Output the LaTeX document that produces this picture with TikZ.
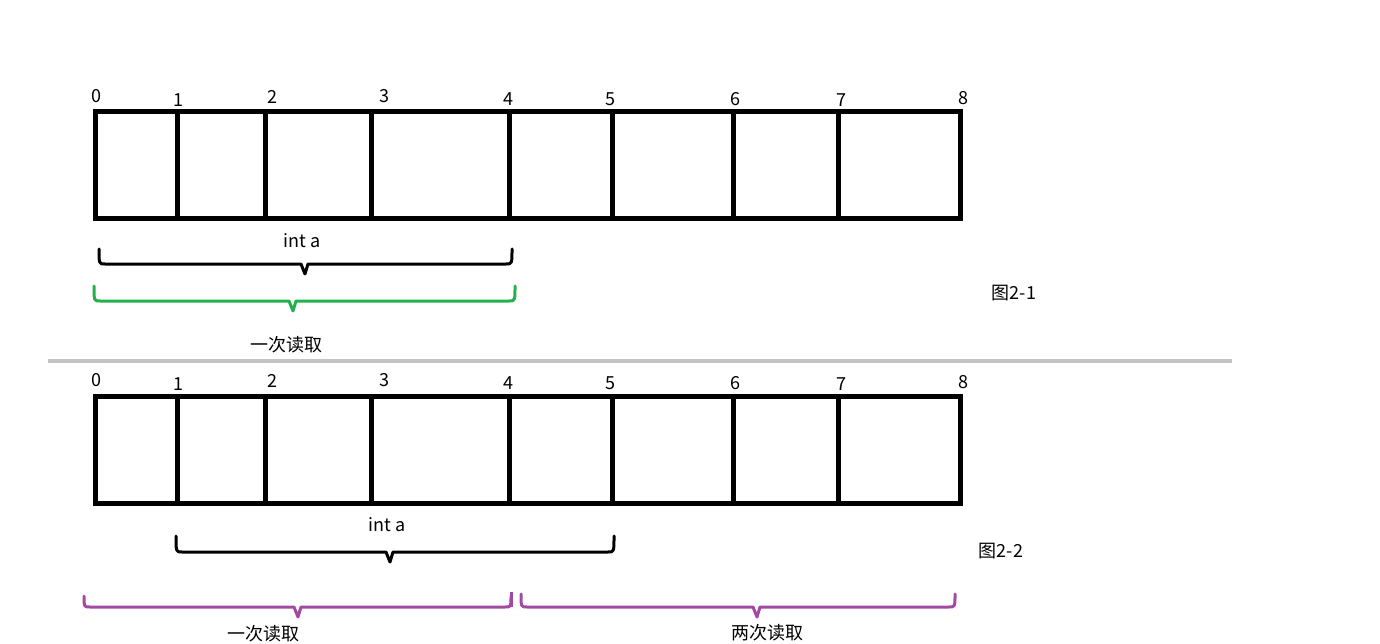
\documentclass[tikz,border=0pt]{standalone}
\usepackage{fontspec}
\setmainfont{Noto Sans CJK SC}
\definecolor{bracegreen}{RGB}{34,177,76}
\definecolor{bracepurple}{RGB}{163,73,164}
\definecolor{sepgray}{RGB}{195,195,195}
\newcommand{\hbrace}[6]{% color, x1, x2, yline, ytop, xtip
  \draw[#1,line width=3pt,line cap=round,line join=round]
    (#2,#5) .. controls (#2,#4) .. (#2+6,#4) -- (#6-4,#4) -- (#6,#4+10) -- (#6+3,#4) -- (#3-6,#4) .. controls (#3,#4) .. (#3,#5);}
\tikzset{
  cellline/.style={line width=5pt},
  numlbl/.style={font=\fontsize{18}{20}\selectfont, inner sep=0pt},
  txtlbl/.style={font=\fontsize{18}{20}\selectfont, inner sep=0pt},
}
\begin{document}
\begin{tikzpicture}[x=1pt,y=-1pt]
\useasboundingbox (0,0) rectangle (1380,644);
\foreach \yt/\yb/\yl/\tag in {112/219/99/a,396/503/383/b}{
  \draw[cellline] (95,\yt) rectangle (960,\yb);
  \foreach \x in {177,265,371,509,612,733,838}{
    \draw[cellline] (\x,\yt) -- (\x,\yb+2);
  }
  \node[numlbl] (n0\tag) at (96,\yl-3) {0};
  \node[numlbl] (n1\tag) at (178,\yl+1) {1};
  \node[numlbl] (n2\tag) at (272,\yl-2) {2};
  \node[numlbl] (n3\tag) at (384,\yl-3) {3};
  \node[numlbl] (n4\tag) at (508,\yl) {4};
  \node[numlbl] (n5\tag) at (610,\yl) {5};
  \node[numlbl] (n6\tag) at (735,\yl) {6};
  \node[numlbl] (n7\tag) at (841,\yl+1) {7};
  \node[numlbl] (n8\tag) at (963,\yl-1) {8};
}
% ---------- figure 2-1 braces ----------
\node[txtlbl] (inta1) at (302,241) {int a};
\hbrace{black}{99}{512}{264}{249}{305}
\hbrace{bracegreen}{94}{515}{301}{286}{293}
\node[txtlbl] (read1) at (286,345) {一次读取};
\node[txtlbl] (fig1) at (1014,293) {图2-1};
% ---------- separator ----------
\draw[sepgray,line width=4pt] (48,361) -- (1232,361);
% ---------- figure 2-2 braces ----------
\node[txtlbl] (inta2) at (387,525) {int a};
\hbrace{black}{176}{614}{552}{536}{390}
\hbrace{bracepurple}{84}{511}{607}{596}{298}
\draw[bracepurple,line width=3pt] (511,607) -- (511,592);
\hbrace{bracepurple}{521}{955}{607}{594}{757}
\node[txtlbl] (read2) at (263,634) {一次读取};
\node[txtlbl] (read3) at (767,633) {两次读取};
\node[txtlbl] (fig2) at (1001,551) {图2-2};
\end{tikzpicture}
\end{document}
